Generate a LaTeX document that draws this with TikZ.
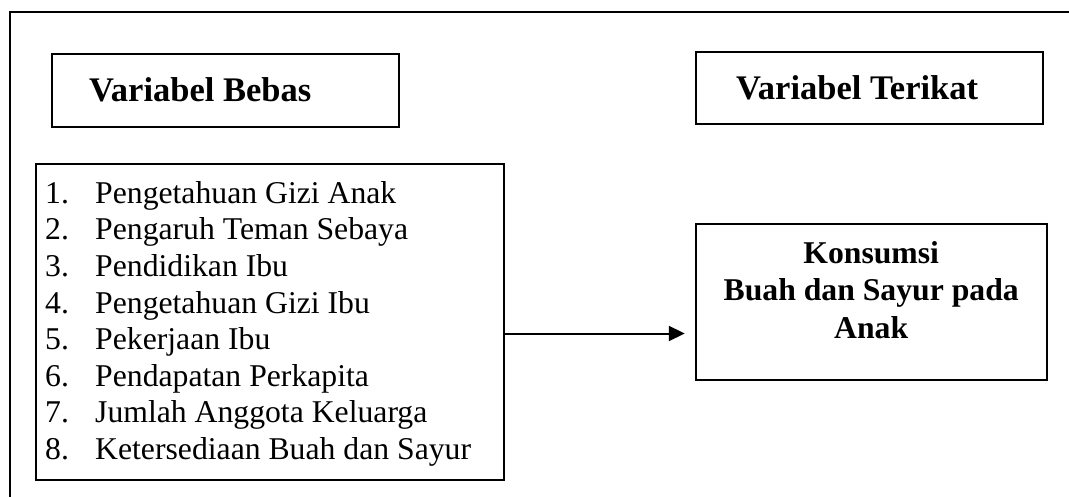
\documentclass[tikz,border=0pt]{standalone}
\usepackage{fontspec}
\setmainfont{Liberation Serif}
\usetikzlibrary{arrows.meta}
\begin{document}
\begin{tikzpicture}[x=1pt,y=-1pt,
  box/.style={draw=black,line width=1.8pt,rectangle,inner sep=0pt},
  txt/.style={inner sep=0pt,anchor=base west,font=\fontsize{31.7}{36.5}\selectfont},
  btxt/.style={txt,font=\fontsize{31.7}{36.5}\selectfont\bfseries},
  htxt/.style={txt,font=\fontsize{34.5}{40}\selectfont\bfseries},
  conn/.style={line width=2pt,-{Triangle[length=16pt,width=15pt]},shorten >=10pt}]
\useasboundingbox (0,0) rectangle (1069,497);
% outer frame (top and left sides)
\draw[line width=2.2pt] (1070,11.7) -- (10,11.7) -- (10,498);
% heading boxes
\node[box,minimum width=347pt,minimum height=73pt] (bebas) at (225.5,90.5) {};
\node[htxt] (bebast) at (89,101.5) {Variabel Bebas};
\node[box,minimum width=346.7pt,minimum height=72pt] (terikat) at (869.4,88.3) {};
\node[htxt] (terikatt) at (736,100) {Variabel Terikat};
% list box
\node[box,minimum width=468pt,minimum height=315.7pt] (list) at (270,322.2) {};
\foreach \i/\t in {1/Pengetahuan Gizi Anak,2/Pengaruh Teman Sebaya,3/Pendidikan Ibu,4/Pengetahuan Gizi Ibu,5/Pekerjaan Ibu,6/Pendapatan Perkapita,7/Jumlah Anggota Keluarga,8/Ketersediaan Buah dan Sayur}{
  \node[txt] (n\i) at (45,{203.5+(\i-1)*36.5}) {\i.};
  \node[txt] (t\i) at (95,{203.5+(\i-1)*36.5}) {\t};
}
% outcome box
\node[box,minimum width=351pt,minimum height=156pt] (kons) at (871.2,302) {};
\node[btxt,anchor=base] (k1) at (871.2,264) {Konsumsi};
\node[btxt,anchor=base] (k2) at (871.2,301) {Buah dan Sayur pada};
\node[btxt,anchor=base] (k3) at (871.2,338) {Anak};
% connector
\draw[conn] (list.east |- 0,333.5) -- (kons.west |- 0,333.5);
\end{tikzpicture}
\end{document}
